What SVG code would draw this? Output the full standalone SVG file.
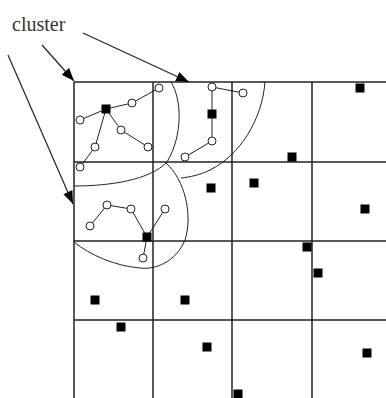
<svg xmlns="http://www.w3.org/2000/svg" width="386" height="398" viewBox="0 0 386 398">
<defs>
<style>
.grid{stroke:#222;stroke-width:1.5;fill:none}
.arc{stroke:#222;stroke-width:1;fill:none}
.edge{stroke:#222;stroke-width:1;fill:none}
.ptr{stroke:#222;stroke-width:1.2;fill:none}
.o{fill:#fff;stroke:#222;stroke-width:1}
.s{fill:#000}
.lbl{font-family:"Liberation Serif",serif;font-size:20px;fill:#333}
</style>
<marker id="ah" markerUnits="userSpaceOnUse" markerWidth="14" markerHeight="10" refX="13" refY="5" orient="auto">
<path d="M0,0 L13,5 L0,10 Z" fill="#000"/>
</marker>
</defs>
<rect width="386" height="398" fill="#fff"/>
<g id="grid">
<line class="grid" x1="74" y1="82" x2="386" y2="82"/>
<line class="grid" x1="74" y1="162" x2="386" y2="162"/>
<line class="grid" x1="74" y1="241" x2="386" y2="241"/>
<line class="grid" x1="74" y1="320" x2="386" y2="320"/>
<line class="grid" x1="74" y1="82" x2="74" y2="398"/>
<line class="grid" x1="153" y1="82" x2="153" y2="398"/>
<line class="grid" x1="232" y1="82" x2="232" y2="398"/>
<line class="grid" x1="312" y1="82" x2="312" y2="398"/>
</g>
<g id="cluster-boundaries">
<path class="arc" d="M171,82 C182,100 183,135 167,162 C150,180 110,186 74,186"/>
<path class="arc" d="M166,163 C185,180 193,215 185,240 C176,262 155,270 140,268 C115,266 90,255 74,242"/>
<path class="arc" d="M265,82 C262,120 240,155 210,170 C200,175 190,177 181,178"/>
</g>
<g id="connectors">
<line class="ptr" x1="42" y1="45" x2="74" y2="81" marker-end="url(#ah)"/>
<line class="ptr" x1="83" y1="33" x2="189" y2="82" marker-end="url(#ah)"/>
<line class="ptr" x1="8" y1="55" x2="73" y2="204" marker-end="url(#ah)"/>
<polyline class="edge" points="159,88 132,103 106,109 80,120"/>
<polyline class="edge" points="106,109 121,130 148,147"/>
<polyline class="edge" points="106,109 95,147 80,167"/>
<polyline class="edge" points="243,93 212,87 212,114 212,141 185,157"/>
<polyline class="edge" points="90,226 107,205 131,209 147,237 165,209"/>
<polyline class="edge" points="147,237 143,258"/>
</g>
<g id="label"><text class="lbl" x="12" y="31">cluster</text></g>
<g id="cluster1">
<rect class="s" x="101.5" y="104.5" width="9" height="9"/>
<circle class="o" cx="159" cy="88" r="4"/>
<circle class="o" cx="132" cy="103" r="4"/>
<circle class="o" cx="80" cy="120" r="4"/>
<circle class="o" cx="121" cy="130" r="4"/>
<circle class="o" cx="148" cy="147" r="4"/>
<circle class="o" cx="95" cy="147" r="4"/>
<circle class="o" cx="80" cy="167" r="4"/>
</g>
<g id="cluster2">
<rect class="s" x="207.5" y="109.5" width="9" height="9"/>
<circle class="o" cx="212" cy="87" r="4"/>
<circle class="o" cx="243" cy="93" r="4"/>
<circle class="o" cx="212" cy="141" r="4"/>
<circle class="o" cx="185" cy="157" r="4"/>
</g>
<g id="cluster3">
<rect class="s" x="142.5" y="232.5" width="9" height="9"/>
<circle class="o" cx="107" cy="205" r="4"/>
<circle class="o" cx="131" cy="209" r="4"/>
<circle class="o" cx="165" cy="209" r="4"/>
<circle class="o" cx="90" cy="226" r="4"/>
<circle class="o" cx="143" cy="258" r="4"/>
</g>
<g id="points">
<rect class="s" x="355.5" y="83.5" width="9" height="9"/>
<rect class="s" x="287.5" y="152.5" width="9" height="9"/>
<rect class="s" x="206.5" y="183.5" width="9" height="9"/>
<rect class="s" x="249.5" y="178.5" width="9" height="9"/>
<rect class="s" x="360.5" y="204.5" width="9" height="9"/>
<rect class="s" x="302.5" y="242.5" width="9" height="9"/>
<rect class="s" x="313.5" y="268.5" width="9" height="9"/>
<rect class="s" x="90.5" y="295.5" width="9" height="9"/>
<rect class="s" x="180.5" y="295.5" width="9" height="9"/>
<rect class="s" x="116.5" y="322.5" width="9" height="9"/>
<rect class="s" x="202.5" y="342.5" width="9" height="9"/>
<rect class="s" x="362.5" y="348.5" width="9" height="9"/>
<rect class="s" x="233.5" y="389.5" width="9" height="9"/>
</g>
</svg>
